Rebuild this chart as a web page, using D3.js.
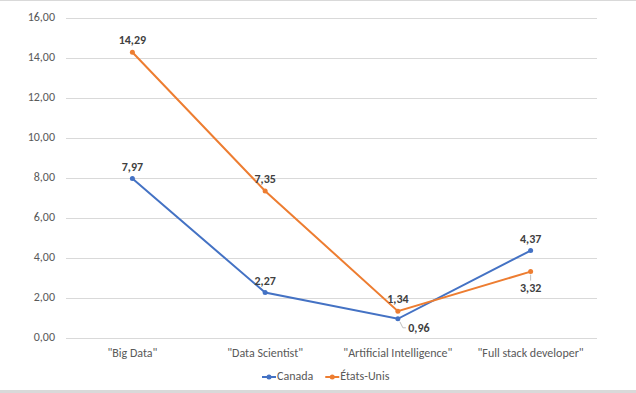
<!DOCTYPE html>
<html>
<head>
<meta charset="utf-8">
<script src="https://cdn.jsdelivr.net/npm/d3@7"></script>
<style>
  html, body { margin: 0; padding: 0; background: #fff; }
  svg { display: block; }
</style>
</head>
<body>
<div id="chart"></div>
<script>
// Données
const categories = ['"Big Data"', '"Data Scientist"', '"Artificial Intelligence"', '"Full stack developer"'];
const canada     = [7.97, 2.27, 0.96, 4.37];
const etatsUnis  = [14.29, 7.35, 1.34, 3.32];
const yTicks     = [0, 2, 4, 6, 8, 10, 12, 14, 16];

const series = [
  { name: 'Canada',     values: canada,    color: '#4472C4' },
  { name: 'États-Unis', values: etatsUnis, color: '#ED7D31' }
];

// placement des étiquettes : 'above' | 'below' | 'belowRight'
const labelPos = {
  'Canada':     ['above', 'above', 'belowRight', 'above'],
  'États-Unis': ['above', 'above', 'above', 'below']
};

const W = 636, H = 393;
const fmt = v => v.toFixed(2).replace('.', ',');
const FONT = 'Calibri, Carlito, "Open Sans", "Liberation Sans", sans-serif';

const svg = d3.select('#chart').append('svg')
  .attr('width', W).attr('height', H)
  .style('font-family', FONT);

// bords haut et bas (seuls visibles)
svg.append('line')
  .attr('x1', 0).attr('x2', W).attr('y1', 0.5).attr('y2', 0.5)
  .attr('stroke', '#d9d9d9');
svg.append('rect')
  .attr('x', 0).attr('y', 390).attr('width', W).attr('height', 3)
  .attr('fill', '#d9d9d9');

const x = d3.scaleBand().domain(categories).range([66, 597]);
const y = d3.scaleLinear().domain([0, 16]).range([338, 18]);

// grille
svg.append('g').selectAll('line').data(yTicks).join('line')
  .attr('x1', 66).attr('x2', 597)
  .attr('y1', d => Math.round(y(d)) + 0.5).attr('y2', d => Math.round(y(d)) + 0.5)
  .attr('stroke', '#d9d9d9').attr('stroke-width', 1);

// axe Y
svg.append('g').selectAll('text').data(yTicks).join('text')
  .attr('x', 55).attr('y', d => y(d))
  .attr('text-anchor', 'end').attr('dominant-baseline', 'middle')
  .attr('font-size', 12).attr('fill', '#595959')
  .text(fmt);

// axe X
svg.append('g').selectAll('text').data(categories).join('text')
  .attr('x', d => x(d) + x.bandwidth() / 2).attr('y', 354)
  .attr('text-anchor', 'middle').attr('dominant-baseline', 'middle')
  .attr('font-size', 12).attr('fill', '#595959')
  .text(d => d);

const cx = i => x(categories[i]) + x.bandwidth() / 2;

const line = d3.line()
  .x((d, i) => cx(i))
  .y(d => y(d));

series.forEach(s => {
  const g = svg.append('g');
  g.append('path')
    .datum(s.values)
    .attr('d', line)
    .attr('fill', 'none')
    .attr('stroke', s.color)
    .attr('stroke-width', 2);
  g.selectAll('circle').data(s.values).join('circle')
    .attr('cx', (d, i) => cx(i)).attr('cy', d => y(d))
    .attr('r', 2.5).attr('fill', s.color);
});

// étiquettes de données
series.forEach(s => {
  s.values.forEach((v, i) => {
    const pos = labelPos[s.name][i];
    const px = cx(i), py = y(v);
    let lx = px, ly = py - 11;
    if (pos === 'below') {
      ly = py + 17;
      svg.append('line')
        .attr('x1', px).attr('y1', py + 3).attr('x2', px).attr('y2', py + 9)
        .attr('stroke', '#bfbfbf').attr('stroke-width', 1);
    }
    if (pos === 'belowRight') {
      lx = px + 21; ly = py + 10;
      svg.append('path')
        .attr('d', `M${px + 2},${py + 3} L${px + 5},${py + 9} L${px + 8},${py + 9}`)
        .attr('fill', 'none')
        .attr('stroke', '#bfbfbf').attr('stroke-width', 1);
    }
    svg.append('text')
      .attr('x', lx).attr('y', ly)
      .attr('text-anchor', 'middle').attr('dominant-baseline', 'middle')
      .attr('font-size', 12).attr('font-weight', 'bold').attr('fill', '#404040')
      .text(fmt(v));
  });
});

// légende
const legend = svg.append('g').attr('transform', 'translate(262,377)');
let lx0 = 0;
series.forEach(s => {
  const item = legend.append('g').attr('transform', `translate(${lx0},0)`);
  item.append('line').attr('x1', 0).attr('x2', 14).attr('y1', 0).attr('y2', 0)
    .attr('stroke', s.color).attr('stroke-width', 2);
  item.append('circle').attr('cx', 7).attr('cy', 0).attr('r', 2.5).attr('fill', s.color);
  const t = item.append('text')
    .attr('x', 15).attr('y', 0).attr('dominant-baseline', 'middle')
    .attr('font-size', 12).attr('fill', '#595959')
    .text(s.name);
  lx0 += 15 + t.node().getComputedTextLength() + 12;
});
</script>
</body>
</html>
